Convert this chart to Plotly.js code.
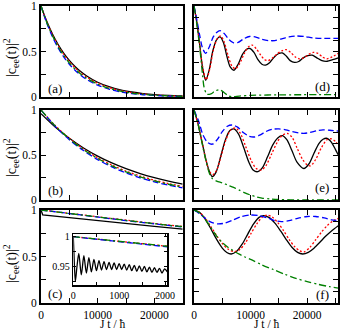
<!DOCTYPE html>
<html>
<head>
<meta charset="utf-8">
<script src="https://cdn.plot.ly/plotly-3.0.1.min.js"></script>
<style>
  body { margin: 0; background: #fff; }
  #container { width: 341px; height: 329px; }
</style>
</head>
<body>
<div id="container"></div>
<script>
// times and values for panel (a)
var tA = [0, 1000, 2000, 3000, 4000, 5000, 6000, 7000, 8000, 10000, 12000, 14000, 16000, 18000, 20000, 22500, 25000];
var aBlack = [1, 0.834, 0.695, 0.58, 0.483, 0.403, 0.336, 0.28, 0.234, 0.162, 0.113, 0.078, 0.055, 0.038, 0.026, 0.017, 0.011];
var aRed = [1, 0.828, 0.686, 0.568, 0.47, 0.389, 0.322, 0.267, 0.221, 0.152, 0.104, 0.071, 0.049, 0.034, 0.023, 0.014, 0.009];
var aGreen = [1, 0.822, 0.676, 0.555, 0.457, 0.375, 0.308, 0.254, 0.208, 0.141, 0.095, 0.064, 0.043, 0.029, 0.02, 0.012, 0.007];
var aBlue = [1, 0.815, 0.665, 0.542, 0.442, 0.36, 0.294, 0.24, 0.195, 0.13, 0.086, 0.057, 0.038, 0.025, 0.017, 0.01, 0.006];

// times and values for panel (b)
var tB = [0, 2500, 5000, 7500, 10000, 12500, 15000, 17500, 20000, 22500, 25000];
var bBlack = [0.96, 0.811, 0.685, 0.578, 0.488, 0.412, 0.348, 0.294, 0.249, 0.21, 0.177];
var bRed = [1, 0.827, 0.685, 0.567, 0.469, 0.388, 0.321, 0.266, 0.22, 0.182, 0.152];
var bGreen = [1, 0.824, 0.679, 0.559, 0.461, 0.379, 0.313, 0.258, 0.212, 0.175, 0.144];
var bBlue = [1, 0.819, 0.67, 0.549, 0.449, 0.368, 0.301, 0.247, 0.202, 0.165, 0.135];

// times and values for panel (c)
var tC = [0, 5000, 10000, 15000, 20000, 25000];
var tCBlack = [0, 300, 5000, 10000, 15000, 20000, 25000];
var cBlack = [1, 0.948, 0.918, 0.885, 0.853, 0.823, 0.795];
var cRed = [1, 0.962, 0.925, 0.889, 0.855, 0.822];
var cGreen = [1, 0.961, 0.924, 0.888, 0.853, 0.82];
var cBlue = [1, 0.96, 0.922, 0.886, 0.851, 0.818];

// inset of panel (c)
var tIn = [0, 20, 45, 80, 120, 175, 230, 285, 340, 395, 450, 505, 560, 615, 670, 725, 780, 835, 890, 945, 1000,
  1055, 1110, 1165, 1220, 1275, 1330, 1385, 1440, 1495, 1550, 1605, 1660, 1715, 1770, 1825, 1880, 1935, 1990, 2050];
var inBlack = [1, 0.96, 0.925, 0.95, 0.972, 0.936, 0.968, 0.939, 0.965, 0.941, 0.962, 0.943, 0.96, 0.944, 0.958, 0.945, 0.957, 0.945, 0.956, 0.945, 0.955,
  0.945, 0.954, 0.944, 0.953, 0.943, 0.952, 0.942, 0.951, 0.942, 0.95, 0.941, 0.949, 0.94, 0.948, 0.94, 0.947, 0.939, 0.946, 0.941];
var tInFlat = [0, 2050];
var inRed = [1, 0.984];
var inGreen = [1, 0.984];
var inBlue = [1, 0.983];

// panel (d)
var tDBlack = [0, 500, 1000, 1500, 2060, 2700, 3300, 4000, 4590, 5200, 5800, 6400, 7060, 7800, 8500, 9200, 9880, 10600, 11300, 12000, 12650,
  13400, 14200, 14900, 15590, 16300, 17000, 17760, 18500, 19300, 20100, 20880, 21700, 22600, 23530, 24500, 25500];
var dBlack = [1, 0.82, 0.58, 0.33, 0.184, 0.3, 0.5, 0.63, 0.66, 0.6, 0.45, 0.33, 0.294, 0.36, 0.46, 0.52, 0.533, 0.49, 0.41, 0.36, 0.35,
  0.38, 0.44, 0.475, 0.485, 0.45, 0.4, 0.38, 0.39, 0.43, 0.455, 0.46, 0.43, 0.4, 0.393, 0.41, 0.43];
var tDRed = [0, 500, 1000, 1500, 2150, 2800, 3400, 4100, 4700, 5300, 6000, 6700, 7350, 8100, 8900, 9600, 10300, 11000, 11800, 12500, 13100,
  13900, 14800, 15600, 16300, 17100, 17900, 18600, 19400, 20300, 21100, 21900, 22700, 23500, 24400, 25500];
var dRed = [1, 0.82, 0.58, 0.34, 0.19, 0.31, 0.51, 0.64, 0.67, 0.61, 0.46, 0.34, 0.31, 0.37, 0.48, 0.55, 0.57, 0.53, 0.46, 0.41, 0.4,
  0.43, 0.48, 0.51, 0.52, 0.49, 0.44, 0.42, 0.43, 0.47, 0.49, 0.48, 0.44, 0.42, 0.44, 0.48];
var tDBlue = [0, 500, 1000, 1500, 2060, 2700, 3400, 4000, 4590, 5300, 6200, 7000, 7800, 8800, 9800, 10800, 12000, 13200, 14300, 15500, 16800,
  18000, 19500, 21000, 22500, 24000, 25500];
var dBlue = [1, 0.85, 0.68, 0.54, 0.48, 0.55, 0.66, 0.71, 0.73, 0.7, 0.63, 0.595, 0.6, 0.64, 0.665, 0.66, 0.635, 0.62, 0.62, 0.64, 0.66,
  0.67, 0.665, 0.65, 0.645, 0.645, 0.645];
var tDGreen = [0, 500, 1000, 1500, 1800, 2300, 3000, 3700, 4500, 5300, 6000, 6800, 8000, 10000, 13000, 16000, 19000, 22000, 25500];
var dGreen = [1, 0.8, 0.55, 0.25, 0.1, 0.03, 0.035, 0.065, 0.08, 0.05, 0.015, 0.003, 0.01, 0.018, 0.022, 0.024, 0.025, 0.026, 0.026];

// panel (e)
var tEBlack = [0, 700, 1400, 2100, 2700, 3240, 3900, 4700, 5500, 6300, 7060, 7900, 8800, 9700, 10500, 11290, 12100, 13000, 13900, 14800,
  15590, 16400, 17300, 18200, 19410, 20300, 21200, 22100, 22800, 23530, 24300, 25000, 25500];
var eBlack = [1, 0.85, 0.65, 0.45, 0.32, 0.26, 0.31, 0.48, 0.66, 0.77, 0.79, 0.73, 0.58, 0.42, 0.33, 0.315, 0.36, 0.48, 0.61, 0.69,
  0.715, 0.67, 0.55, 0.42, 0.35, 0.4, 0.52, 0.63, 0.675, 0.685, 0.64, 0.56, 0.5];
var tERed = [0, 700, 1400, 2100, 2700, 3300, 4000, 4800, 5600, 6500, 7350, 8200, 9100, 10100, 11000, 11880, 12700, 13700, 14700, 15600,
  16470, 17300, 18200, 19200, 20000, 20590, 21500, 22500, 23500, 24300, 25000, 25500];
var eRed = [1, 0.85, 0.65, 0.45, 0.32, 0.28, 0.33, 0.49, 0.66, 0.78, 0.8, 0.74, 0.6, 0.44, 0.35, 0.333, 0.38, 0.51, 0.64, 0.72,
  0.74, 0.7, 0.58, 0.45, 0.39, 0.38, 0.45, 0.58, 0.67, 0.68, 0.65, 0.61];
var tEBlue = [0, 800, 1600, 2400, 3240, 4100, 5000, 5900, 6760, 7700, 8700, 9700, 10590, 11600, 12700, 13800, 15000, 16200, 17400, 18500,
  19410, 20500, 21700, 22800, 24000, 25500];
var eBlue = [1, 0.88, 0.72, 0.64, 0.62, 0.67, 0.76, 0.82, 0.833, 0.81, 0.75, 0.71, 0.7, 0.72, 0.76, 0.785, 0.79, 0.78, 0.76, 0.745,
  0.74, 0.75, 0.77, 0.78, 0.775, 0.765];
var tEGreen = [0, 700, 1400, 2100, 2700, 3200, 4000, 5000, 6000, 7000, 8000, 9000, 10000, 11000, 12000, 13500, 15000, 17000, 20000, 25500];
var eGreen = [1, 0.85, 0.64, 0.44, 0.3, 0.24, 0.21, 0.19, 0.165, 0.14, 0.11, 0.08, 0.055, 0.035, 0.022, 0.012, 0.006, 0.002, 0, 0];

// panel (f)
var tFBlack = [0, 1000, 2000, 3000, 4000, 5000, 5800, 6570, 7500, 8500, 9500, 10500, 11500, 12290, 13300, 14300, 15300, 16300, 17300, 18300,
  19200, 20200, 21200, 22200, 23200, 24200, 25500];
var fBlack = [1, 0.973, 0.9, 0.796, 0.684, 0.591, 0.543, 0.527, 0.553, 0.632, 0.741, 0.848, 0.921, 0.94, 0.918, 0.859, 0.775, 0.682, 0.599, 0.544,
  0.527, 0.545, 0.59, 0.65, 0.715, 0.77, 0.83];
var tFRed = [0, 1000, 2000, 3000, 4000, 5000, 6000, 7140, 8100, 9100, 10100, 11100, 12000, 12860, 13800, 14800, 15800, 16800, 17800, 18700,
  19500, 20500, 21500, 22500, 23500, 24500, 25500];
var fRed = [1, 0.975, 0.91, 0.82, 0.725, 0.64, 0.58, 0.552, 0.575, 0.65, 0.75, 0.85, 0.92, 0.946, 0.925, 0.865, 0.78, 0.685, 0.605, 0.56,
  0.55, 0.6, 0.68, 0.76, 0.83, 0.88, 0.91];
var tFBlue = [0, 1000, 2000, 3000, 4290, 5500, 6800, 8200, 10000, 11500, 13000, 14300, 15430, 16800, 18300, 20000, 21500, 23000, 24300, 25500];
var fBlue = [1, 0.96, 0.91, 0.87, 0.85, 0.86, 0.89, 0.925, 0.946, 0.94, 0.915, 0.885, 0.875, 0.885, 0.91, 0.93, 0.93, 0.915, 0.895, 0.885];
var tFGreen = [0, 1000, 2000, 3000, 4000, 5000, 6000, 7000, 8000, 9000, 10000, 12000, 14000, 16000, 18000, 20000, 22000, 24000, 25500];
var fGreen = [1, 0.97, 0.9, 0.81, 0.72, 0.65, 0.6, 0.56, 0.525, 0.495, 0.47, 0.41, 0.36, 0.31, 0.265, 0.23, 0.2, 0.175, 0.16];

// tick labels
var xTickVals = [0, 5000, 10000, 15000, 20000, 25000];
var xTickText = ["0", "", "10000", "", "20000", ""];
var yTickVals = [0, 0.25, 0.5, 0.75, 1];
var yTickText = ["0", "", "0.5", "", "1"];
var yRightTicks = [0, 0.125, 0.25, 0.375, 0.5, 0.625, 0.75, 0.875, 1];
var inXTickVals = [0, 500, 1000, 1500, 2000];
var inXTickText = ["0", "", "1000", "", "2000"];
var inYTickVals = [0.925, 0.95, 0.975, 1];
var inYTickText = ["", "0.95", "", "1"];
var panelLabels = ["(a)", "(b)", "(c)", "(d)", "(e)", "(f)"];

var FONT = "Liberation Serif, Times New Roman, serif";
var W = 341, H = 329;

// makes one line trace on the given axes
function line(x, y, color, dash, n, shape) {
  return {
    x: x, y: y,
    xaxis: "x" + n, yaxis: "y" + n,
    type: "scatter", mode: "lines",
    line: { color: color, width: 1.3, dash: dash, shape: shape || "spline", smoothing: 0.8 },
    hoverinfo: "skip", showlegend: false
  };
}

// the four curves of a panel, black then red then blue then green
function four(n, tk, k, tr, r, tb, b, tg, g, shape) {
  return [
    line(tk, k, "#000000", "solid", n, shape),
    line(tr, r, "#ff0000", "2px,2px", n, shape),
    line(tb, b, "#0000ff", "6px,3px", n, shape),
    line(tg, g, "#008000", "7px,3px,2px,3px", n, shape)
  ];
}

var data = [].concat(
  four(1, tA, aBlack, tA, aRed, tA, aBlue, tA, aGreen),
  four(2, tB, bBlack, tB, bRed, tB, bBlue, tB, bGreen),
  four(3, tCBlack, cBlack, tC, cRed, tC, cBlue, tC, cGreen, "linear"),
  four(4, tDBlack, dBlack, tDRed, dRed, tDBlue, dBlue, tDGreen, dGreen),
  four(5, tEBlack, eBlack, tERed, eRed, tEBlue, eBlue, tEGreen, eGreen),
  four(6, tFBlack, fBlack, tFRed, fRed, tFBlue, fBlue, tFGreen, fGreen),
  four(7, tIn, inBlack, tInFlat, inRed, tInFlat, inBlue, tInFlat, inGreen)
);

// pixel boxes of the panels
var colX = [[41, 182.7], [194, 338.3]];
var rowY = [[6, 97], [110, 200], [210, 303]];

function dom(a, b, size, flip) {
  if (flip) return [1 - b / size, 1 - a / size];
  return [a / size, b / size];
}

function axisBase() {
  return {
    showline: true, linewidth: 2, linecolor: "#000",
    mirror: "ticks", ticks: "inside", ticklen: 5, tickwidth: 1, tickcolor: "#000",
    showgrid: false, zeroline: false, fixedrange: true,
    ticklabeloverflow: "allow",
    tickfont: { family: FONT, size: 11.5, color: "#000" }
  };
}

// a text placed by its centre in page pixels
function label(px, py, text, size, angle) {
  return {
    xref: "paper", yref: "paper", x: px / W, y: 1 - py / H,
    xanchor: "center", yanchor: "middle",
    text: text, showarrow: false, textangle: angle || 0,
    font: { family: FONT, size: size, color: "#000" }
  };
}

var layout = {
  width: W, height: H,
  margin: { l: 0, r: 0, t: 0, b: 0 },
  paper_bgcolor: "#fff", plot_bgcolor: "#fff",
  font: { family: FONT, color: "#000" },
  showlegend: false,
  annotations: []
};

// builds the six panels
var letterX = [55, 322];
var letterY = [[88, 190, 293], [86, 187, 294]];
for (var i = 0; i < 6; i++) {
  var col = i < 3 ? 0 : 1;
  var row = i % 3;
  var n = i + 1;
  var xa = axisBase();
  xa.domain = dom(colX[col][0], colX[col][1], W, false);
  xa.range = col === 0 ? [0, 25000] : [0, 25500];
  xa.anchor = "y" + n;
  xa.tickmode = "array";
  xa.tickvals = xTickVals;
  xa.ticktext = xTickText;
  xa.showticklabels = row === 2;
  var ya = axisBase();
  ya.domain = dom(rowY[row][0], rowY[row][1], H, true);
  ya.range = [0, 1];
  ya.anchor = "x" + n;
  ya.tickmode = "array";
  if (col === 0) {
    ya.tickvals = yTickVals;
    ya.ticktext = yTickText;
  } else {
    ya.tickvals = yRightTicks;
    ya.showticklabels = false;
  }
  layout["xaxis" + (n === 1 ? "" : n)] = xa;
  layout["yaxis" + (n === 1 ? "" : n)] = ya;

  // panel letter
  layout.annotations.push(label(letterX[col], letterY[col][row], panelLabels[i], 13));
}

// inset axes
var ix = axisBase();
ix.domain = dom(73.3, 167.3, W, false);
ix.range = [0, 2050];
ix.anchor = "y7";
ix.tickmode = "array";
ix.tickvals = inXTickVals;
ix.ticktext = inXTickText;
ix.ticklen = 3;
ix.linewidth = 1.5;
ix.tickfont = { family: FONT, size: 10, color: "#000" };
var iy = axisBase();
iy.domain = dom(234.3, 285, H, true);
iy.range = [0.919, 1.004];
iy.anchor = "x7";
iy.tickmode = "array";
iy.tickvals = inYTickVals;
iy.ticktext = inYTickText;
iy.ticklen = 3;
iy.linewidth = 1.5;
iy.tickfont = { family: FONT, size: 10, color: "#000" };
layout.xaxis7 = ix;
layout.yaxis7 = iy;

// y titles on the left
var yTitleY = [58, 158, 264];
for (var r = 0; r < 3; r++) {
  layout.annotations.push(label(11, yTitleY[r], "|c<sub>ee</sub>(t)|<sup>2</sup>", 14, -90));
}

// x titles under both columns
var xTitleX = [112, 266];
for (var c = 0; c < 2; c++) {
  layout.annotations.push(label(xTitleX[c], 323.5, "J t / ħ", 11.5));
}

Plotly.newPlot("container", data, layout, { staticPlot: true });
</script>
</body>
</html>
